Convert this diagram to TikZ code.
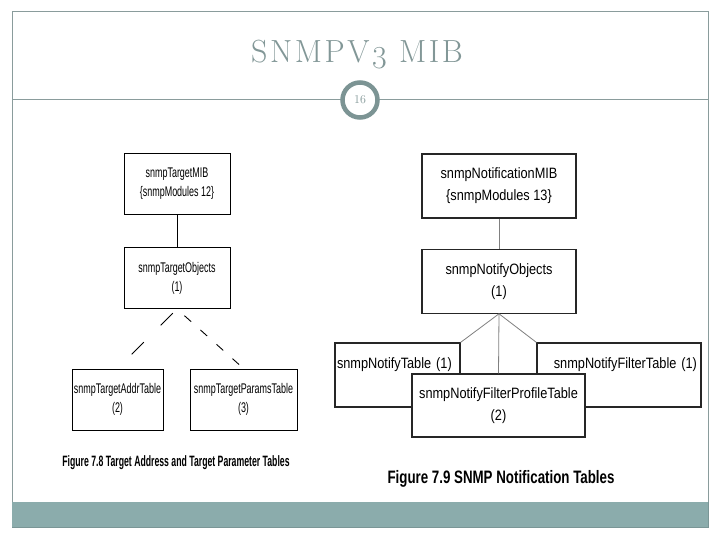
\documentclass[tikz,border=0pt]{standalone}
\usepackage{fontspec}
\usetikzlibrary{positioning}
\newfontfamily\figfontl[FakeStretch=0.64]{Liberation Sans}
\newfontfamily\figfontr[FakeStretch=0.85]{Liberation Sans}
\newfontfamily\capfontl[FakeStretch=0.58]{Liberation Sans}
\newfontfamily\capfontr[FakeStretch=0.74]{Liberation Sans}
\newcommand{\lowfig}[1]{\raisebox{-6pt}{#1}}
\newcommand{\tk}{\kern2.6pt}
\definecolor{framegray}{HTML}{8A9C9C}
\definecolor{titlegray}{HTML}{829797}
\definecolor{ringgray}{HTML}{7C9494}
\definecolor{bandteal}{HTML}{8BACAC}
\definecolor{bandedge}{HTML}{7A9696}
\tikzset{
  basic/.style  = {draw, rectangle, inner sep=1pt, align=center},
  ltree/.style  = {basic, line width=1pt, minimum height=61pt,
                   font=\figfontl\fontsize{14}{19}\selectfont},
  rtree/.style  = {basic, draw=black!85, line width=1.2pt, fill=white,
                   minimum height=64pt, font=\figfontr\fontsize{15}{22}\selectfont},
  rtab/.style   = {rtree, text height=11pt, text depth=25pt},
  lline/.style  = {line width=0.9pt},
  rline/.style  = {draw=gray, line width=0.8pt}
}

\begin{document}
\begin{tikzpicture}[x=1pt, y=-1pt]
\useasboundingbox (0,0) rectangle (720,540);
\fill[white] (0,0) rectangle (720,540);

% slide frame, rule and footer band
\draw[framegray, line width=1pt] (12,502) -- (12,12) -- (708,12) -- (708,502);
\draw[framegray, line width=1pt] (12,100) -- (708,100);
\fill[bandteal] (12,502) rectangle (708,527);
\draw[bandedge, line width=0.8pt] (12,527) -- (708,527) -- (708,502);

% title and page number
\node[anchor=base, text=titlegray, font=\fontsize{32}{32}\selectfont] (title)
  at (357,63) {S\tk N\tk M\tk P\tk V\tk\lowfig{3}\tk\ M\tk I\tk B};
\node[circle, draw=ringgray, line width=4.5pt, fill=white, minimum size=35pt,
  inner sep=0pt, text=titlegray, font=\fontsize{12}{12}\selectfont] (pnum)
  at (360,100) {16};

% Figure 7.8, target tables
\node[ltree, minimum width=106pt] (tmib) at (177,184)
  {snmpTargetMIB\\\{snmpModules 12\}};
\node[ltree, minimum width=106pt, below=32pt of tmib] (tobj)
  {snmpTargetObjects\\(1)};
\node[ltree, minimum width=91pt] (taddr) at (117.5,399.5)
  {snmpTargetAddrTable\\(2)};
\node[ltree, minimum width=107pt] (tparams) at (243.5,399.5)
  {snmpTargetParamsTable\\(3)};

\draw[lline] (tmib) -- (tobj);
\draw[lline, dash pattern=on 17pt off 24pt, shorten <=6pt, shorten >=20pt]
  (tobj.south) -- (taddr.north);
\draw[lline, dash pattern=on 9pt off 12.5pt, shorten <=10pt, shorten >=6pt]
  (tobj.south) -- (tparams.north);

\node[font=\capfontl\bfseries\fontsize{15}{15}\selectfont] (cap78) at (176,463)
  {Figure 7.8 Target Address and Target Parameter Tables};

% Figure 7.9, notification tables
\node[rtree, minimum width=154pt] (nmib) at (499,186)
  {snmpNotificationMIB\\\{snmpModules 13\}};
\node[rtree, minimum width=154pt, below=30pt of nmib] (nobj)
  {snmpNotifyObjects\\(1)};
\node[rtab, minimum width=125pt, text width=121pt, align=left] (ntab)
  at (397.5,375) {snmpNotifyTable (1)};
\node[rtab, minimum width=164pt, text width=156pt, align=right] (nfilt)
  at (619,375) {snmpNotifyFilterTable (1)};
\node[rtree, minimum width=173pt, minimum height=63pt] (nprof) at (498.5,405.5)
  {snmpNotifyFilterProfileTable\\(2)};

\draw[rline] (nmib) -- (nobj);
\draw[rline] (nobj.south) -- (ntab.north east);
\draw[rline] (nobj.south) -- (nprof.north);
\draw[rline] (nobj.south) -- (nfilt.north west);

\node[font=\capfontr\bfseries\fontsize{18}{18}\selectfont] (cap79) at (501,479)
  {Figure 7.9 SNMP Notification Tables};
\end{tikzpicture}
\end{document}
